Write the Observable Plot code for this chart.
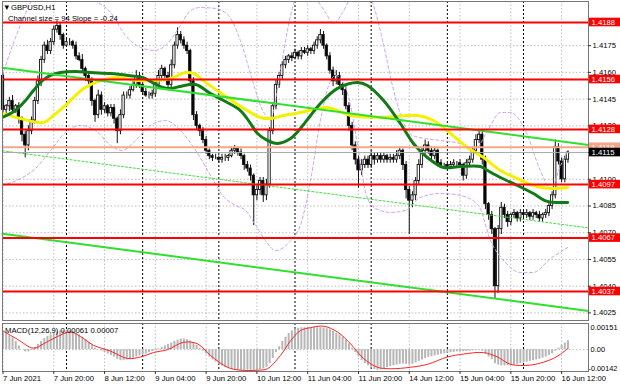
<!DOCTYPE html>
<html><head><meta charset="utf-8">
<script src="https://cdn.jsdelivr.net/npm/d3@7"></script>
<script src="https://cdn.jsdelivr.net/npm/@observablehq/plot@0.6"></script>
<style>
html,body{margin:0;padding:0;background:#fff;}
#chart{position:relative;width:620px;height:388px;overflow:hidden;background:#fff;font-family:"Liberation Sans",Arial,sans-serif;}
#chart svg{position:absolute;left:0;}
.hdr{position:absolute;font-size:7.7px;line-height:1;color:#000;white-space:nowrap;font-family:"Liberation Sans",Arial,sans-serif;}
</style></head><body>
<div id="chart"></div>
<script>
// ---------- data ----------
const pip = 0.0001;
const firstOpen = 1.4158;
const closes = [
1.4139,1.4141,1.4144,1.4139,1.4141,1.4134,1.4125,1.4119,1.4127,1.4133,
1.4144,1.4155,1.4167,1.4175,1.4172,1.4177,1.4184,1.4186,1.4181,1.4175,
1.4177,1.4177,1.4175,1.4169,1.4167,1.4162,1.4158,1.4155,1.4144,1.4136,
1.4147,1.4139,1.4141,1.4137,1.4140,1.4134,1.4127,1.4136,1.4147,1.4147,
1.4150,1.4153,1.4158,1.4153,1.4149,1.4147,1.4147,1.4148,1.4153,1.4158,
1.4162,1.4158,1.4153,1.4164,1.4175,1.4181,1.4178,1.4175,1.4172,1.4155,
1.4136,1.4130,1.4127,1.4122,1.4116,1.4113,1.4112,1.4112,1.4111,1.4112,
1.4112,1.4113,1.4116,1.4117,1.4115,1.4113,1.4108,1.4106,1.4102,1.4091,
1.4094,1.4099,1.4091,1.4097,1.4127,1.4141,1.4153,1.4158,1.4164,1.4167,
1.4169,1.4168,1.4171,1.4169,1.4172,1.4171,1.4173,1.4172,1.4175,1.4178,
1.4181,1.4175,1.4169,1.4161,1.4155,1.4158,1.4153,1.4150,1.4141,1.4130,
1.4119,1.4111,1.4105,1.4108,1.4111,1.4108,1.4113,1.4111,1.4113,1.4111,
1.4113,1.4111,1.4112,1.4111,1.4113,1.4116,1.4108,1.4094,1.4088,1.4091,
1.4099,1.4108,1.4116,1.4119,1.4116,1.4113,1.4116,1.4109,1.4108,1.4108,
1.4107,1.4108,1.4109,1.4109,1.4108,1.4102,1.4109,1.4111,1.4116,1.4122,
1.4125,1.4111,1.4086,1.4080,1.4072,1.4040,1.4072,1.4084,1.4080,1.4076,
1.4080,1.4081,1.4078,1.4081,1.4080,1.4081,1.4079,1.4081,1.4080,1.4078,
1.4080,1.4081,1.4085,1.4091,1.4118,1.4110,1.4100,1.4111,1.4115];
// wick lengths beyond the body, in pips
const wickUp = [
2,1,2,3,1,2,1,2,3,2, 2,3,2,2,3,2,2,3,2,1, 2,2,1,2,2,3,1,2,2,1,
3,2,2,1,2,2,1,3,2,2, 2,2,3,2,1,2,2,2,2,3, 2,1,2,3,2,4,2,2,2,1,
2,2,1,2,2,1,1,2,1,2, 2,1,2,2,1,2,1,2,2,1, 3,2,2,3,2,2,3,2,2,2,
1,2,2,1,2,2,2,1,2,2, 3,2,1,2,2,3,2,1,2,2, 2,2,2,3,2,2,3,2,2,2,
2,1,2,2,3,2,1,2,2,2, 2,3,2,3,2,2,2,1,2,1, 1,2,2,1,2,1,2,2,2,3,
3,2,2,1,2,1,2,3,2,2, 1,2,1,2,1,2,1,2,1,2, 1,2,2,2,4,2,2,2,1];
const wickDn = [
2,2,3,2,2,3,4,7,3,2, 2,2,3,2,2,2,2,2,3,2, 1,2,2,2,1,2,3,2,3,4,
2,3,2,2,2,3,7,2,2,2, 2,1,2,2,2,1,2,2,2,2, 2,2,3,2,2,2,2,2,2,3,
3,2,3,2,2,2,2,1,2,2, 2,2,1,2,2,2,3,2,3,17, 3,3,4,3,2,2,2,2,2,2,
2,2,1,2,2,1,2,2,2,2, 2,2,2,2,3,2,2,3,2,3, 3,3,10,3,2,2,2,3,2,2,
2,2,2,2,2,2,3,5,19,4, 3,2,2,2,2,2,2,2,2,2, 2,1,2,2,2,3,2,2,2,2,
2,3,3,3,3,7,4,3,2,3, 2,2,2,2,2,2,2,2,2,2, 2,2,2,2,2,2,2,2,2];

// moving averages, bands [bar index, price]
const maFast = [[-0.2,1.41347],[3.9,1.41386],[7.1,1.41442],[9.6,1.41498],[12.4,1.41554],[15.0,1.41583],[18.1,1.41599],[22.8,1.41605],[27.6,1.41599],[33.9,1.41594],[39.5,1.41583],[44.0,1.41571],[47.1,1.41543],[50.3,1.41515],[52.8,1.41510],[55.9,1.41521],[60.7,1.41532],[65.4,1.41481],[69.5,1.41442],[74.8,1.41386],[78.0,1.41313],[80.2,1.41257],[83.3,1.41218],[86.5,1.41201],[90.6,1.41229],[93.7,1.41285],[96.9,1.41358],[100.0,1.41425],[105.4,1.41510],[111.7,1.41543],[114.8,1.41526],[119.9,1.41442],[125.2,1.41313],[129.3,1.41201],[133.7,1.41122],[138.8,1.41066],[144.1,1.41072],[150.4,1.41072],[152.7,1.41049],[156.7,1.41010],[162.1,1.40965],[167.1,1.40920],[171.5,1.40876],[177.9,1.40870]];
const maSlow = [[-0.8,1.41375],[5.5,1.41341],[12.8,1.41319],[15.9,1.41358],[20.3,1.41425],[25.4,1.41510],[30.7,1.41554],[36.1,1.41571],[42.4,1.41554],[47.4,1.41554],[52.8,1.41566],[57.5,1.41599],[60.0,1.41594],[64.4,1.41537],[70.7,1.41459],[77.0,1.41386],[81.1,1.41347],[84.3,1.41341],[88.4,1.41358],[93.7,1.41375],[102.2,1.41403],[109.5,1.41358],[119.9,1.41347],[130.6,1.41358],[135.6,1.41330],[141.0,1.41257],[146.3,1.41178],[151.4,1.41122],[156.7,1.41049],[162.1,1.41004],[167.1,1.40965],[172.5,1.40948],[177.9,1.40954]];
const bbUpper = [[-0.2,1.41583],[3.0,1.41751],[6.1,1.41891],[8.7,1.41992],[13.4,1.42116],[21.3,1.42088],[29.1,1.42003],[33.9,1.41936],[38.6,1.41807],[43.3,1.41740],[48.0,1.41723],[51.8,1.41762],[55.9,1.41863],[59.1,1.41947],[62.2,1.41964],[66.9,1.41959],[71.0,1.41919],[74.8,1.41779],[78.6,1.41554],[81.8,1.41386],[84.3,1.41341],[87.4,1.41611],[90.6,1.41919],[93.7,1.42060],[98.5,1.42015],[101.6,1.41936],[104.1,1.41874],[107.0,1.41936],[110.1,1.42032],[114.2,1.42060],[116.4,1.41992],[119.6,1.41779],[122.7,1.41526],[125.9,1.41330],[129.0,1.41246],[133.1,1.41229],[137.8,1.41218],[144.1,1.41201],[148.9,1.41173],[152.7,1.41274],[156.7,1.41375],[159.9,1.41375],[164.6,1.41274],[169.3,1.41049],[172.5,1.40948],[175.7,1.41077],[177.9,1.41162]];
const bbLower = [[-0.2,1.40965],[5.5,1.41004],[10.2,1.41060],[15.0,1.41162],[19.7,1.41263],[24.4,1.41302],[29.1,1.41274],[33.9,1.41190],[37.6,1.41162],[41.7,1.41218],[46.5,1.41302],[51.2,1.41330],[55.9,1.41274],[60.7,1.41162],[65.4,1.41021],[69.2,1.40909],[73.3,1.40853],[76.4,1.40825],[79.6,1.40741],[82.7,1.40656],[85.9,1.40600],[90.6,1.40656],[93.7,1.40741],[96.9,1.40993],[100.0,1.41330],[102.6,1.41526],[104.8,1.41583],[107.0,1.41554],[109.5,1.41414],[112.0,1.41162],[114.5,1.40909],[117.4,1.40836],[122.1,1.40814],[126.8,1.40825],[131.5,1.40898],[137.8,1.40920],[144.1,1.40909],[149.8,1.40853],[153.6,1.40656],[158.3,1.40533],[163.0,1.40477],[167.1,1.40477],[172.5,1.40555],[177.9,1.40617]];

// regression channel (ends at the plot edges)
const chanUpper = [[-0.158,1.41626],[184.47,1.41193]];
const chanMid   = [[-0.158,1.41160],[184.47,1.40727]];
const chanLower = [[-0.158,1.40694],[184.47,1.40261]];

const levels = [1.4188,1.4156,1.4128,1.4097,1.4067,1.4037];
const askPrice = 1.4118;
const bidPrice = 1.4115;
const priceTicks = [1.4025,1.4040,1.4055,1.4070,1.4085,1.4100,1.4115,1.4130,1.4145,1.4160,1.4175];
const priceTickLabels = [1.4025,1.4040,1.4055,1.4070,1.4085,1.4100,1.4130,1.4145,1.4160,1.4175];

const tickBars = [0,16,32,48,64,80,96,112,128,144,160,176];
const tickLabels = ["7 Jun 2021","7 Jun 20:00","8 Jun 12:00","9 Jun 04:00","9 Jun 20:00","10 Jun 12:00","11 Jun 04:00","11 Jun 20:00","14 Jun 12:00","15 Jun 04:00","15 Jun 20:00","16 Jun 12:00"];
const daySeps = [20,44,68,92,116,140,164];

// MACD main (histogram) per bar, x1e-5
const macdHist = [
120,110,95,80,55,25,0,-15,-15,-5, 15,35,55,75,90,100,112,122,128,130,
130,128,122,112,100,85,68,48,28,10, 0,-10,-20,-30,-40,-50,-65,-75,-75,-70,
-65,-58,-50,-42,-38,-30,-20,-12,-5,5, 15,25,35,45,55,65,72,72,68,60,
45,30,10,-10,-30,-50,-70,-85,-100,-112, -120,-128,-135,-140,-142,-142,-142,-140,-140,-142,
-142,-138,-132,-120,-95,-60,-20,20,55,85, 110,128,140,146,149,150,151,151,150,149,
150,148,143,135,125,112,100,85,65,40, 10,-20,-50,-75,-95,-110,-125,-135,-140,-138,
-130,-122,-115,-110,-105,-100,-98,-100,-105,-100, -90,-80,-70,-60,-52,-48,-42,-38,-32,-28,
-24,-20,-18,-15,-14,-14,-12,-10,-8,-5, -3,-10,-30,-50,-68,-95,-105,-110,-110,-110,
-108,-105,-100,-95,-90,-85,-80,-75,-70,-65, -58,-50,-40,-28,-12,10,30,45,61];
// MACD signal [bar index, value x1e-5]
const macdSignal = [[-0.2,130],[4.6,70],[9.6,10],[12.8,40],[17.2,90],[21.3,120],[24.4,90],[28.5,30],[33.9,-10],[39.2,-60],[43.3,-50],[47.4,-20],[51.8,0],[56.9,50],[61.3,40],[65.4,-40],[70.7,-120],[74.8,-140],[80.2,-140],[83.3,-130],[87.4,-40],[90.6,60],[93.7,130],[96.9,150],[101.0,160],[105.4,120],[109.5,40],[113.6,-60],[118.0,-120],[122.1,-130],[128.4,-120],[133.7,-100],[140.0,-50],[145.1,-30],[151.4,-20],[155.8,-50],[159.9,-100],[166.2,-105],[170.3,-85],[173.4,-60],[175.7,-30],[177.9,7]];
const macdTicks = [0.00151, 0, -0.00142];
const macdTickText = ["0.00151", "0.00", "-0.00142"];

// ---------- build ----------
const candles = closes.map((c, i) => {
  const o = i === 0 ? firstOpen : closes[i - 1];
  return {i, open: o, close: c, high: Math.max(o, c) + wickUp[i] * pip, low: Math.min(o, c) - wickDn[i] * pip};
});
const xDom = [-0.158, 184.47];
const pxPerBar = 3.174;
const gridStyle = {stroke: "#bdbdbd", strokeDasharray: "1.5,2", strokeWidth: 1};
const sepStyle = {stroke: "#000", strokeDasharray: "2,2", strokeWidth: 1};
const font = "Liberation Sans, Arial, sans-serif";

const tags = [
  {price: 1.4188, fill: "#ff0000"}, {price: 1.4156, fill: "#ff0000"}, {price: 1.4128, fill: "#ff0000"},
  {price: askPrice, fill: "#f6a48a"}, {price: bidPrice, fill: "#000000"},
  {price: 1.4097, fill: "#ff0000"}, {price: 1.4067, fill: "#ff0000"}, {price: 1.4037, fill: "#ff0000"}
];
function tagMark(index, scales, values, dims) {
  const g = d3.create("svg:g");
  const x0 = dims.width - dims.marginRight + 1;
  for (const t of tags) {
    const y = scales.y(t.price);
    g.append("rect").attr("x", x0).attr("y", y - 4.3).attr("width", 31).attr("height", 8.6).attr("fill", t.fill);
    g.append("text").attr("x", x0 + 2.5).attr("y", y + 2.8).attr("fill", "#fff")
      .attr("text-anchor", "start").attr("font-size", 7.7).attr("font-family", font).text(t.price.toFixed(4));
  }
  return g.node();
}

const main = Plot.plot({
  width: 620, height: 321,
  marginTop: 1, marginBottom: 1, marginLeft: 2, marginRight: 32,
  x: {domain: xDom, axis: null},
  y: {domain: [1.402073, 1.419979], axis: null},
  style: {fontFamily: font, fontSize: "7.7px", background: "transparent"},
  marks: [
    Plot.ruleY(priceTicks, gridStyle),
    Plot.ruleX(tickBars, gridStyle),
    Plot.ruleX(daySeps, sepStyle),
    Plot.ruleX(candles, {x: "i", y1: "low", y2: "high", stroke: "#111", strokeWidth: 1}),
    Plot.rect(candles, {x1: d => d.i - 0.36, x2: d => d.i + 0.36, y1: "open", y2: "close",
      fill: d => d.close >= d.open ? "#ffffff" : "#000000", stroke: "#111", strokeWidth: 0.9}),
    Plot.line(bbUpper, {stroke: "#c9a3ea", strokeWidth: 1, strokeDasharray: "3,2.5", curve: "monotone-x", clip: true}),
    Plot.line(bbLower, {stroke: "#c9a3ea", strokeWidth: 1, strokeDasharray: "3,2.5", curve: "monotone-x", clip: true}),
    Plot.line(maSlow, {stroke: "#f5f000", strokeWidth: 3, curve: "catmull-rom", clip: true}),
    Plot.line(maFast, {stroke: "#127a16", strokeWidth: 3, curve: "catmull-rom", clip: true}),
    Plot.line(chanUpper, {stroke: "#2fe02f", strokeWidth: 2}),
    Plot.line(chanMid, {stroke: "#3fe03f", strokeWidth: 1, strokeDasharray: "2,2"}),
    Plot.line(chanLower, {stroke: "#2fe02f", strokeWidth: 2}),
    Plot.ruleY(levels, {stroke: "#ff0000", strokeWidth: 2}),
    Plot.ruleY([askPrice], {stroke: "#f6a48a", strokeWidth: 2}),
    Plot.ruleY([bidPrice], {stroke: "#a9a9a9", strokeWidth: 1}),
    Plot.frame({stroke: "#777"}),
    Plot.ruleY(priceTicks, {x1: xDom[1], x2: xDom[1] + 3 / pxPerBar, stroke: "#333"}),
    Plot.text(priceTickLabels, {y: d => d, text: d => d.toFixed(4), frameAnchor: "right", dx: 4, textAnchor: "start", fill: "#000", fontSize: 7.7}),
    tagMark
  ]
});

const macdPxPerUnit = 48 / (0.001783 + 0.001488);
const macd = Plot.plot({
  width: 620, height: 67,
  marginTop: 2, marginBottom: 17, marginLeft: 2, marginRight: 32,
  x: {domain: xDom, axis: null},
  y: {domain: [-0.001488, 0.001783], axis: null},
  style: {fontFamily: font, fontSize: "7.7px", background: "transparent"},
  marks: [
    Plot.ruleX(tickBars, gridStyle),
    Plot.ruleY([0], gridStyle),
    Plot.ruleX(daySeps, sepStyle),
    Plot.ruleX(macdHist, {x: (d, i) => i, y1: 0, y2: d => d * 1e-5, stroke: "#b6b6b6", strokeWidth: 2}),
    Plot.line(macdSignal, {x: d => d[0], y: d => d[1] * 1e-5, stroke: "#ff2222", strokeWidth: 1, curve: "catmull-rom", clip: true}),
    Plot.frame({stroke: "#777"}),
    Plot.ruleX(tickBars, {y1: -0.001488, y2: -0.001488 - 3 / macdPxPerUnit, stroke: "#333"}),
    Plot.text([macdTicks[0]], {y: d => d, text: () => macdTickText[0], frameAnchor: "right", dx: 2, textAnchor: "start", fill: "#000", fontSize: 7.5}),
    Plot.text([macdTicks[1]], {y: d => d, text: () => macdTickText[1], frameAnchor: "right", dx: 2, textAnchor: "start", fill: "#000", fontSize: 7.5}),
    Plot.text([macdTicks[2]], {y: d => d, text: () => macdTickText[2], frameAnchor: "right", dx: 0, textAnchor: "start", lineAnchor: "bottom", fill: "#000", fontSize: 7.3}),
    Plot.text(tickBars, {x: d => d, text: (d, i) => tickLabels[i], frameAnchor: "bottom", lineAnchor: "top", dy: 4, textAnchor: "start", fill: "#000", fontSize: 7.7})
  ]
});

const root = document.getElementById("chart");
main.style.top = "0px";
macd.style.top = "321px";
root.appendChild(main);
root.appendChild(macd);

function hdr(text, left, top) {
  const d = document.createElement("div");
  d.className = "hdr"; d.textContent = text;
  d.style.left = left + "px"; d.style.top = top + "px";
  root.appendChild(d);
}
hdr("\u25BC", 3, 4);
hdr("GBPUSD,H1", 11, 4);
hdr("Channel size = 94 Slope = -0.24", 8, 15);
hdr("MACD(12,26,9) 0.00061 0.00007", 5, 327);
</script></body></html>
